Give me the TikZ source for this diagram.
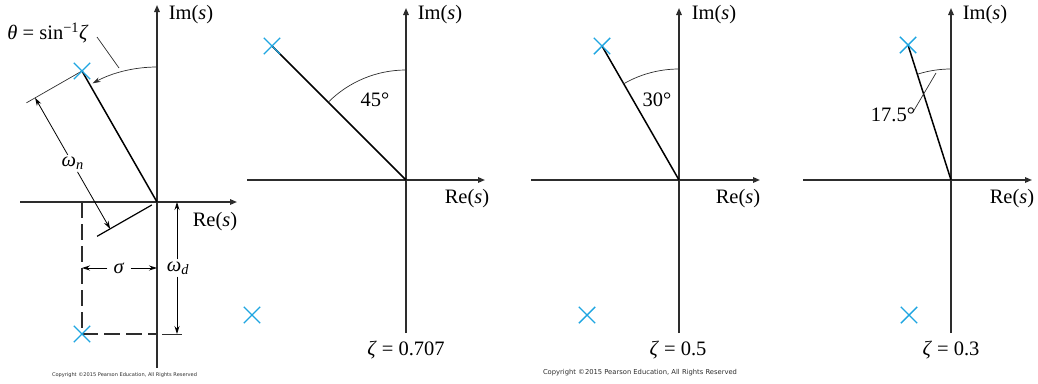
\documentclass[tikz,border=0pt]{standalone}
\usepackage{fontspec}
\usepackage{graphicx}
\setmainfont{Liberation Serif}
\newfontfamily\cpfont{DejaVu Sans}
\usetikzlibrary{arrows.meta,calc,shapes.misc}
\definecolor{polecol}{RGB}{30,165,225}
\definecolor{axiscol}{RGB}{45,45,45}
\tikzset{
 axis/.style={draw=axiscol,line width=1.5pt,-{Triangle[length=7pt,width=5.5pt]}},
 axisplain/.style={draw=axiscol,line width=1.5pt},
 pole/.style={cross out,draw=polecol,line width=1.4pt,minimum size=15pt,inner sep=0pt},
 radial/.style={line width=1.5pt,draw=black},
 arcline/.style={line width=0.7pt,draw=axiscol},
 thinline/.style={line width=0.7pt,draw=axiscol},
 dimline/.style={line width=0.8pt,draw=black},
 dimtip/.style={-{Stealth[length=8pt,width=5pt]}},
 lbl/.style={font=\fontsize{20.5}{24}\selectfont,inner sep=2pt},
 dashln/.style={line width=1.3pt,draw=axiscol,dash pattern=on 16pt off 6pt},
 copy/.style={text=axiscol,inner sep=0pt},
}
\begin{document}
\begin{tikzpicture}[x=1pt,y=-1pt]
\useasboundingbox (0,0) rectangle (1038,383);
% ---------------- Panel 1 ----------------
\coordinate (O1) at (157,202);
\coordinate (p1u) at (82,71);
\coordinate (p1l) at (82,334);
\coordinate (A1b) at (157,368);
\coordinate (A1t) at (157,5);
\coordinate (H1l) at (20,202);
\coordinate (H1r) at (237,202);
\draw[axis] (A1b) -- (A1t);
\draw[axis] (H1l) -- (H1r);
\node[lbl] (Im1) at (191,15) {Im(\textit{s})};
\node[lbl] (Re1) at (215,222) {Re(\textit{s})};
\draw[radial] (p1u) -- (O1);
% theta arc
\draw[arcline,-{Stealth[length=8pt,width=5pt]}] ($(O1)+(0,-135)$) arc[start angle=270,end angle=241.5,radius=135];
\node[lbl] (th) at (48,33) {\textit{θ} = sin\textsuperscript{−1}\textit{ζ}};
\coordinate (L1a) at (97,37);
\coordinate (L1b) at (119,68);
\draw[thinline] (L1a) -- (L1b);
% omega_n dimension
\coordinate (E1b) at ($(p1u)+64*(-0.868,0.497)$);
\coordinate (E2a) at ($(O1)+6*(-0.868,0.497)$);
\coordinate (E2b) at ($(O1)+69*(-0.868,0.497)$);
\draw[thinline] (p1u) -- (E1b);
\draw[line width=1.2pt] (E2a) -- (E2b);
\coordinate (D1) at ($(p1u)+54*(-0.868,0.497)$);
\coordinate (D2) at ($(O1)+54*(-0.868,0.497)$);
\node[lbl] (wn) at ($(D1)!0.5!(D2)$) {\textit{ω}\textsubscript{\textit{n}}};
\draw[dimline,dimtip] (wn) -- (D1);
\draw[dimline,dimtip] (wn) -- (D2);
% sigma / omega_d
\coordinate (S1) at (82,202);
\coordinate (Y1) at (157,334);
\draw[dashln] (S1) -- (p1l);
\draw[dashln] (p1l) -- (Y1);
\node[lbl,inner xsep=6pt] (sg) at (119,268) {\textit{σ}};
\coordinate (sgL) at (82,268);
\coordinate (sgR) at (157,268);
\draw[dimline,dimtip] (sg) -- (sgL);
\draw[dimline,dimtip] (sg) -- (sgR);
\node[lbl] (wd) at (178,268) {\textit{ω}\textsubscript{\textit{d}}};
\coordinate (wdT) at (177,202);
\coordinate (wdB) at (177,334);
\draw[dimline,dimtip] (wd.north -| wdT) -- (wdT);
\draw[dimline,dimtip] (wd.south -| wdB) -- (wdB);
\coordinate (X1a) at (162,334);
\coordinate (X1b) at (182,334);
\draw[thinline] (X1a) -- (X1b);
\node[pole] (P1u) at (p1u) {};
\node[pole] (P1l) at (p1l) {};
\node[copy] (cp1) at (124.5,375) {\resizebox{145pt}{!}{\cpfont Copyright ©2015 Pearson Education, All Rights Reserved}};
% ---------------- Panel 2 ----------------
\coordinate (O2) at (406,180);
\coordinate (p2u) at (272,46);
\coordinate (p2l) at (252,315);
\coordinate (A2b) at (406,333);
\coordinate (A2t) at (406,8);
\coordinate (H2l) at (247,180);
\coordinate (H2r) at (485,180);
\draw[axis] (A2b) -- (A2t);
\draw[axis] (H2l) -- (H2r);
\node[lbl] (Im2) at (440,15) {Im(\textit{s})};
\node[lbl] (Re2) at (467,199) {Re(\textit{s})};
\draw[radial] (p2u) -- (O2);
\draw[arcline] ($(O2)+(0,-110)$) arc[start angle=270,end angle=225,radius=110];
\node[lbl] (a2) at (375,100) {45°};
\node[lbl] (z2) at (406,350) {\textit{ζ} = 0.707};
\node[pole] (P2u) at (p2u) {};
\node[pole] (P2l) at (p2l) {};
% ---------------- Panel 3 ----------------
\coordinate (O3) at (679,180);
\coordinate (p3u) at (602,46);
\coordinate (p3l) at (587,315);
\coordinate (A3b) at (679,333);
\coordinate (A3t) at (679,8);
\coordinate (H3l) at (531,180);
\coordinate (H3r) at (760,180);
\draw[axis] (A3b) -- (A3t);
\draw[axis] (H3l) -- (H3r);
\node[lbl] (Im3) at (714,15) {Im(\textit{s})};
\node[lbl] (Re3) at (738,199) {Re(\textit{s})};
\draw[radial] (p3u) -- (O3);
\draw[arcline] ($(O3)+(0,-111)$) arc[start angle=270,end angle=240,radius=111];
\node[lbl] (a3) at (657,100) {30°};
\node[lbl] (z3) at (678,350) {\textit{ζ} = 0.5};
\node[pole] (P3u) at (p3u) {};
\node[pole] (P3l) at (p3l) {};
\node[copy] (cp2) at (640,373) {\resizebox{194pt}{!}{\cpfont Copyright ©2015 Pearson Education, All Rights Reserved}};
% ---------------- Panel 4 ----------------
\coordinate (O4) at (951,180);
\coordinate (p4u) at (908,45);
\coordinate (p4l) at (909,315);
\coordinate (A4b) at (951,333);
\coordinate (A4t) at (951,8);
\coordinate (H4l) at (803,180);
\coordinate (H4r) at (1032,180);
\draw[axis] (A4b) -- (A4t);
\draw[axis] (H4l) -- (H4r);
\node[lbl] (Im4) at (985,15) {Im(\textit{s})};
\node[lbl] (Re4) at (1012,199) {Re(\textit{s})};
\draw[radial] (p4u) -- (O4);
\draw[arcline] ($(O4)+(0,-111)$) arc[start angle=270,end angle=252.5,radius=111];
\coordinate (L4a) at (936,73);
\coordinate (L4b) at (913,112);
\draw[thinline] (L4a) -- (L4b);
\node[lbl] (a4) at (893,115) {17.5°};
\node[lbl] (z4) at (951,350) {\textit{ζ} = 0.3};
\node[pole] (P4u) at (p4u) {};
\node[pole] (P4l) at (p4l) {};
\end{tikzpicture}
\end{document}
